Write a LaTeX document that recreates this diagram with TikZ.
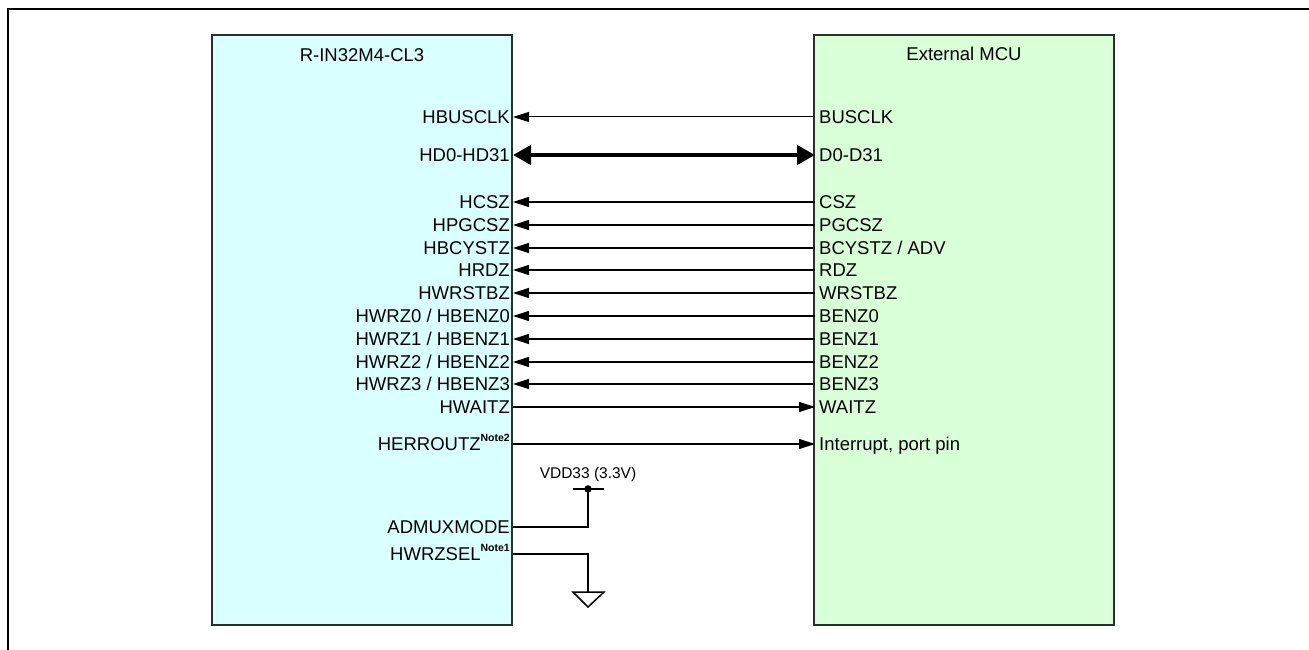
\documentclass[tikz,border=0pt]{standalone}
\usepackage{fontspec}
\setmainfont{Liberation Sans}
\usetikzlibrary{arrows.meta}
\definecolor{rinfill}{RGB}{217,255,255}
\definecolor{mcufill}{RGB}{217,255,217}
\definecolor{boxline}{RGB}{45,45,45}
\newcommand{\notemark}[1]{\raisebox{9pt}{\fontsize{10.5}{11}\selectfont\bfseries #1}}
\tikzset{
    chip/.style={draw=boxline, line width=1.5pt, minimum width=300pt, minimum height=590pt, inner sep=0pt},
    lpin/.style={anchor=east, inner xsep=3pt, inner ysep=0pt, text height=12.9pt, text depth=0pt},
    rpin/.style={anchor=west, inner xsep=4pt, inner ysep=0pt, text height=12.9pt, text depth=0pt},
    sig/.style={line width=1.3pt, -{Triangle[length=16pt, width=10pt]}},
    bus/.style={line width=4.5pt, {Triangle[length=18pt, width=19pt]}-{Triangle[length=18pt, width=19pt]}}
}
\begin{document}
\begin{tikzpicture}[x=1pt, y=-1pt, font=\fontsize{18.5}{21}\selectfont]
                \useasboundingbox (0,0) rectangle (1309,650);
                \draw[line width=2pt] (8,650) |- (1309,9);
                % the two chips
                \node[chip, fill=rinfill] (rin) at (362,330) {};
                \node[chip, fill=mcufill] (mcu) at (964,330) {};
                \node (rintitle) at (362,55) {R-IN32M4-CL3};
                \node (mcutitle) at (964,54) {External MCU};
                % pins of R-IN32M4-CL3
                \node[lpin] (hbusclk) at (513,117) {HBUSCLK};
                \node[lpin] (hd) at (513,155) {HD0-HD31};
                \node[lpin] (hcsz) at (513,202) {HCSZ};
                \node[lpin] (hpgcsz) at (513,225) {HPGCSZ};
                \node[lpin] (hbcystz) at (513,248) {HBCYSTZ};
                \node[lpin] (hrdz) at (513,270) {HRDZ};
                \node[lpin] (hwrstbz) at (513,293) {HWRSTBZ};
                \node[lpin] (hbenz0) at (513,316) {HWRZ0 / HBENZ0};
                \node[lpin] (hbenz1) at (513,339) {HWRZ1 / HBENZ1};
                \node[lpin] (hbenz2) at (513,362) {HWRZ2 / HBENZ2};
                \node[lpin] (hbenz3) at (513,384) {HWRZ3 / HBENZ3};
                \node[lpin] (hwaitz) at (513,407) {HWAITZ};
                \node[lpin] (herroutz) at (513,444) {HERROUTZ\notemark{Note2}};
                \node[lpin] (admux) at (513,527) {ADMUXMODE};
                \node[lpin] (hwrzsel) at (513,554) {HWRZSEL\notemark{Note1}};
                % pins of the external MCU
                \node[rpin] (busclk) at (815,117) {BUSCLK};
                \node[rpin] (d) at (815,155) {D0-D31};
                \node[rpin] (csz) at (815,202) {CSZ};
                \node[rpin] (pgcsz) at (815,225) {PGCSZ};
                \node[rpin] (bcystz) at (815,248) {BCYSTZ / ADV};
                \node[rpin] (rdz) at (815,270) {RDZ};
                \node[rpin] (wrstbz) at (815,293) {WRSTBZ};
                \node[rpin] (benz0) at (815,316) {BENZ0};
                \node[rpin] (benz1) at (815,339) {BENZ1};
                \node[rpin] (benz2) at (815,362) {BENZ2};
                \node[rpin] (benz3) at (815,384) {BENZ3};
                \node[rpin] (waitz) at (815,407) {WAITZ};
                \node[rpin] (intp) at (815,444) {Interrupt, port pin};
                % signals
                \draw[sig, line width=1pt] (busclk.west) -- (hbusclk.east);
                \draw[bus] (hd.east) -- (d.west);
                \draw[sig] (csz.west) -- (hcsz.east);
                \draw[sig] (pgcsz.west) -- (hpgcsz.east);
                \draw[sig] (bcystz.west) -- (hbcystz.east);
                \draw[sig] (rdz.west) -- (hrdz.east);
                \draw[sig] (wrstbz.west) -- (hwrstbz.east);
                \draw[sig] (benz0.west) -- (hbenz0.east);
                \draw[sig] (benz1.west) -- (hbenz1.east);
                \draw[sig] (benz2.west) -- (hbenz2.east);
                \draw[sig] (benz3.west) -- (hbenz3.east);
                \draw[sig] (hwaitz.east) -- (waitz.west);
                \draw[sig] (herroutz.east) -- (intp.west);
                % supply and ground
                \coordinate (vdd) at (588,489);
                \coordinate (gnd) at (588,592);
                \node[font=\fontsize{15.5}{17}\selectfont] (vddlabel) at (588,474) {VDD33 (3.3V)};
                \draw[line width=1.5pt] (admux.east) -| (vdd);
                \draw[line width=1.5pt] ([xshift=-15pt]vdd) -- ([xshift=16pt]vdd);
                \filldraw (vdd) circle (3.5pt);
                \draw[line width=1.5pt] (hwrzsel.east) -| (gnd);
                \draw[line width=1.5pt, line join=miter] ([xshift=-15pt]gnd) -- ([xshift=16pt]gnd) -- ([yshift=-15pt]gnd) -- cycle;
            \end{tikzpicture}
\end{document}
